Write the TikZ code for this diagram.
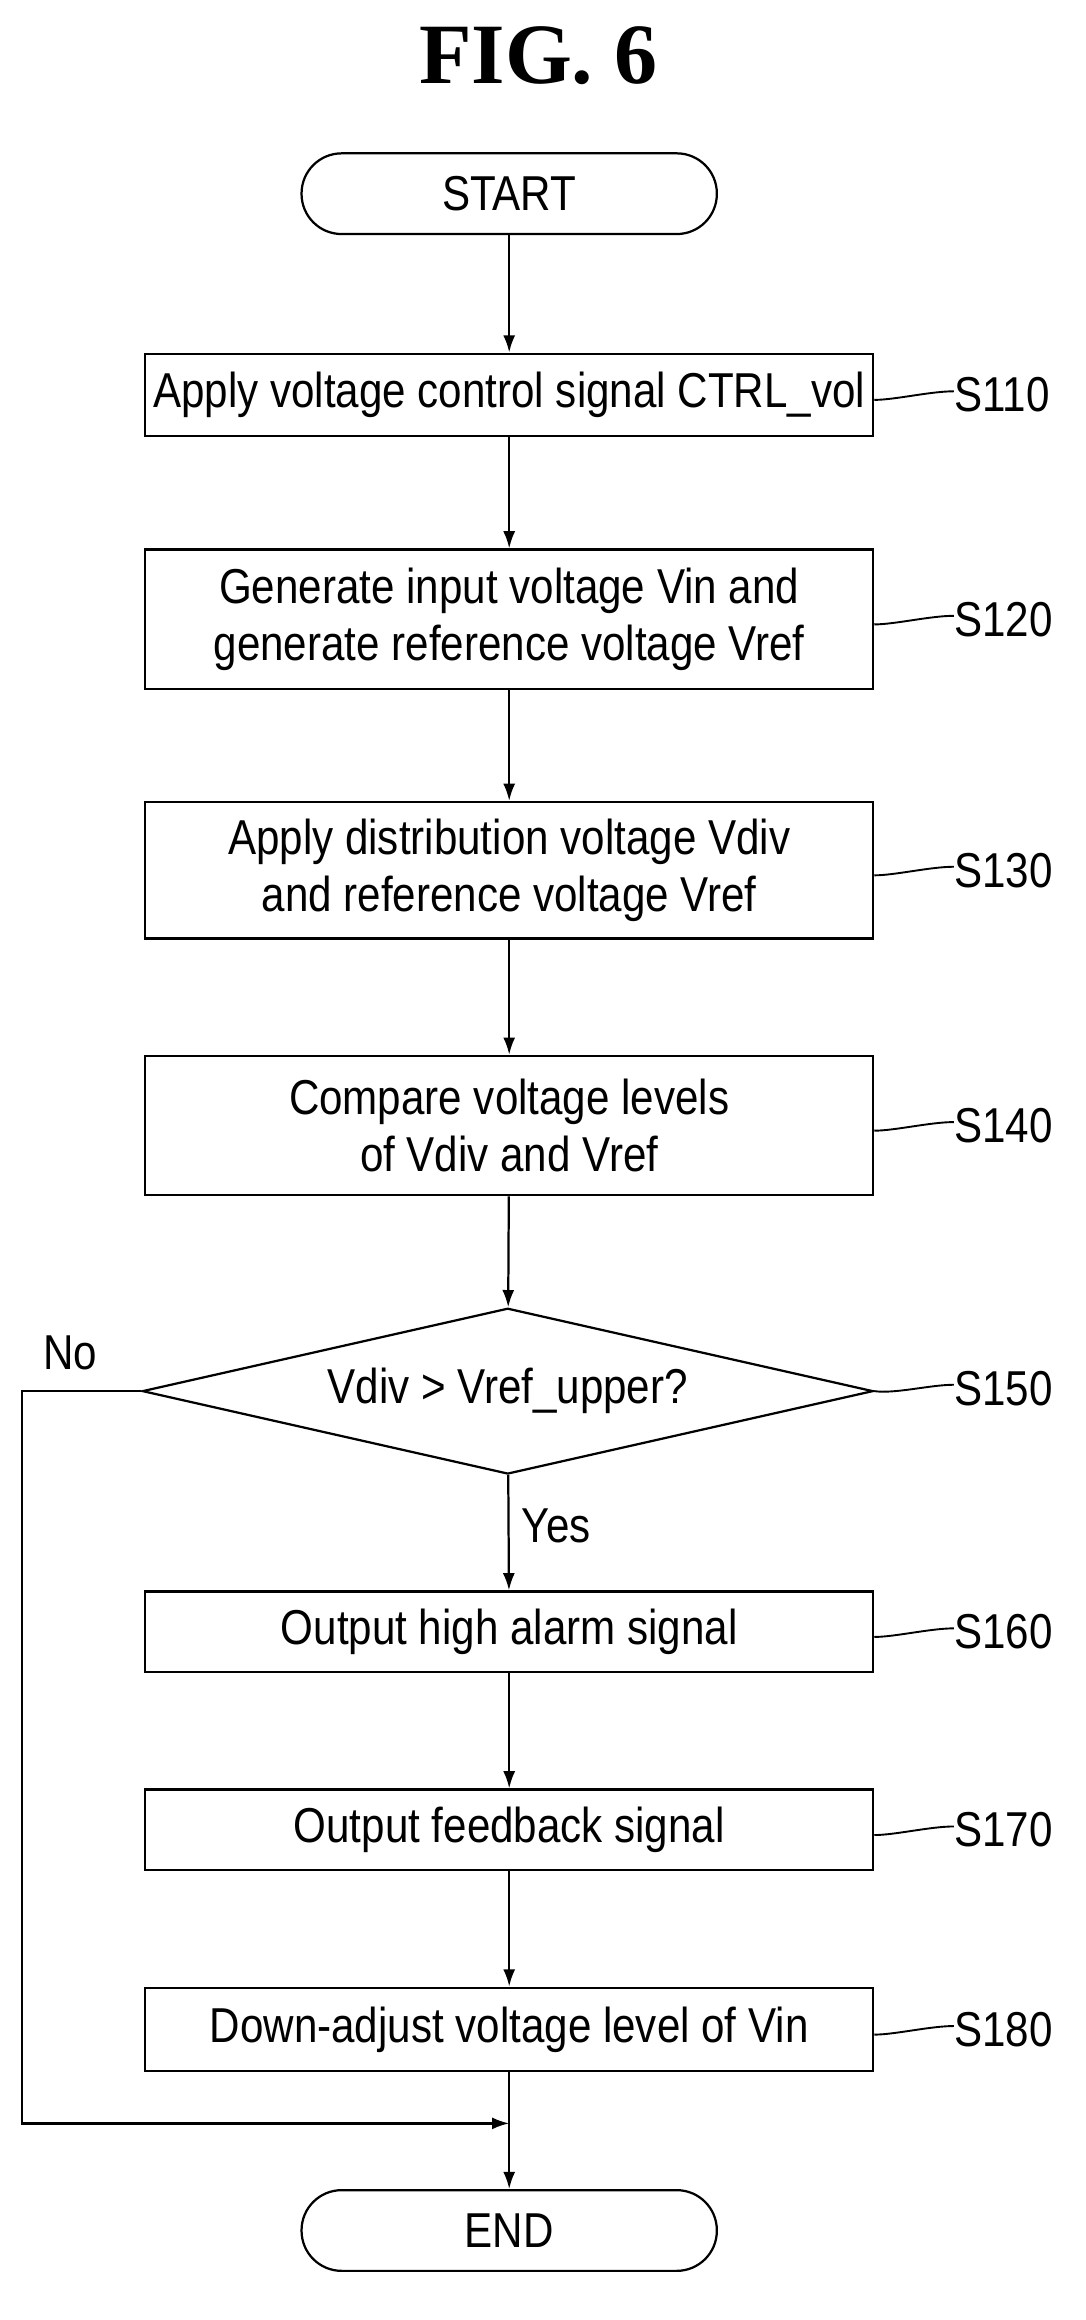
\documentclass[tikz,border=0pt]{standalone}
\usepackage{fontspec}
\setmainfont{Liberation Sans}[FakeStretch=0.86]
\newfontfamily\titlefont{Liberation Serif}
\usetikzlibrary{shapes.geometric,arrows.meta}
\begin{document}
\begin{tikzpicture}[x=0.03cm,y=-0.03cm,
  every node/.style={font=\fontsize{28.5}{33}\selectfont},
  box/.style={draw,line width=1.3pt,minimum width=14.88cm,align=center,inner sep=0},
  term/.style={draw,line width=1.3pt,rounded corners=0.82cm,minimum width=8.49cm,minimum height=1.65cm},
  arr/.style={line width=1.3pt,-{Latex[length=10pt,width=7pt]}},
  lab/.style={anchor=west,inner sep=0},
  sq/.style={line width=1.1pt}]
\useasboundingbox (0,0) rectangle (740,1581);
\node[font=\titlefont\bfseries\fontsize{50}{54}\selectfont] (title) at (367,38) {FIG. 6};
\node[term] (start) at (347,132) {START};
\node[box,minimum height=1.68cm] (s110) at (347,269) {Apply voltage control signal CTRL\_vol};
\node[box,minimum height=2.85cm] (s120) at (347,422) {Generate input voltage Vin and\\generate reference voltage Vref};
\node[box,minimum height=2.79cm] (s130) at (347,593) {Apply distribution voltage Vdiv\\and reference voltage Vref};
\node[box,minimum height=2.85cm] (s140) at (347,767) {Compare voltage levels\\of Vdiv and Vref};
\node[draw,diamond,line width=1.3pt,aspect=4.4,minimum width=14.94cm,minimum height=3.39cm,inner sep=0] (s150) at (346,948) {Vdiv > Vref\_upper?};
\node[box,minimum height=1.65cm] (s160) at (347,1112) {Output high alarm signal};
\node[box,minimum height=1.65cm] (s170) at (347,1247) {Output feedback signal};
\node[box,minimum height=1.71cm] (s180) at (347,1383) {Down-adjust voltage level of Vin};
\node[term] (end) at (347,1520) {END};
\coordinate (c1) at (15,948);
\coordinate (c2) at (15,1447);
\coordinate (c3) at (347,1447);
\draw[arr] (start) -- (s110);
\draw[arr] (s110) -- (s120);
\draw[arr] (s120) -- (s130);
\draw[arr] (s130) -- (s140);
\draw[arr] (s140) -- (s150);
\draw[arr] (s150) -- (s160);
\draw[arr] (s160) -- (s170);
\draw[arr] (s170) -- (s180);
\draw[line width=1.3pt] (s180) -- (c3);
\draw[arr] (c3) -- (end);
\draw[arr] (s150.west) -- (c1) -- (c2) -- (c3);
\node (no) at (48,922) {No};
\node (yes) at (379,1040) {Yes};
\foreach \n/\y in {110/269,120/422,130/593,140/767,160/1112,170/1247,180/1383}{
  \node[lab] (l\n) at (650,\y) {S\n};
  \draw[sq] ([yshift=-3pt]s\n.east) .. controls +(14,0) and +(-16,0) .. ([yshift=2pt]l\n.west);
}
\node[lab] (l150) at (650,946) {S150};
\draw[sq] (s150.east) .. controls +(14,2) and +(-16,0) .. ([yshift=2pt]l150.west);
\end{tikzpicture}
\end{document}
